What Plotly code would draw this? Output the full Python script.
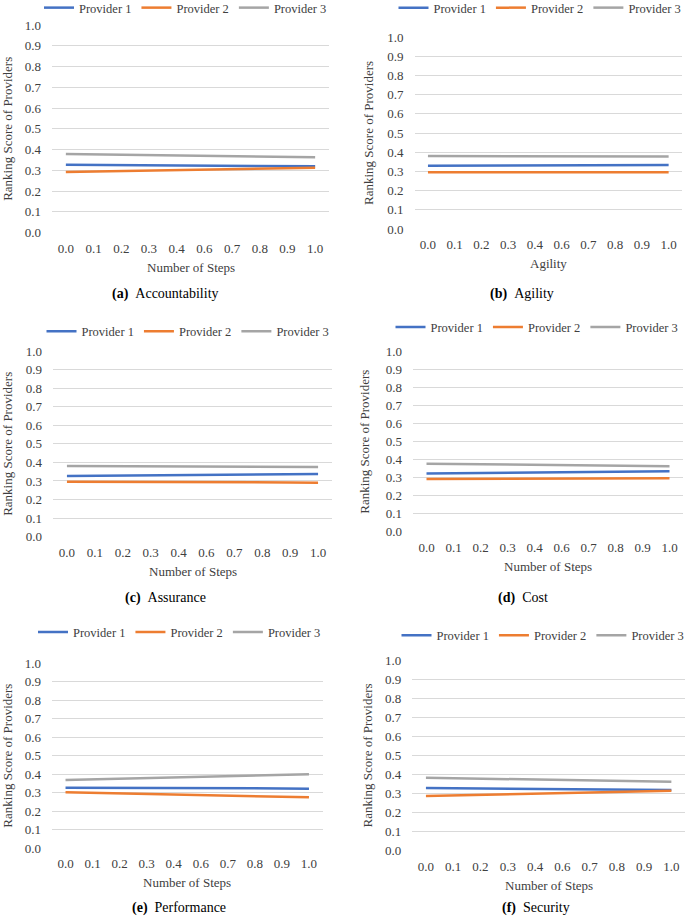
import plotly.graph_objects as go

W, H = 685, 918

steps = ["0.0", "0.1", "0.2", "0.3", "0.4", "0.6", "0.7", "0.8", "0.9", "1.0"]
providers = ["Provider 1", "Provider 2", "Provider 3"]
colors = ["#4472C4", "#ED7D31", "#A5A5A5"]

acc_p1 = [0.327, 0.326, 0.326, 0.325, 0.324, 0.323, 0.323, 0.322, 0.321, 0.320]
acc_p2 = [0.292, 0.294, 0.297, 0.299, 0.302, 0.305, 0.307, 0.309, 0.311, 0.313]
acc_p3 = [0.379, 0.377, 0.375, 0.374, 0.372, 0.370, 0.369, 0.367, 0.365, 0.363]

agi_p1 = [0.330, 0.330, 0.331, 0.331, 0.331, 0.332, 0.332, 0.332, 0.333, 0.333]
agi_p2 = [0.296, 0.296, 0.296, 0.296, 0.296, 0.296, 0.296, 0.296, 0.296, 0.296]
agi_p3 = [0.380, 0.380, 0.379, 0.379, 0.379, 0.378, 0.378, 0.378, 0.377, 0.377]

ass_p1 = [0.327, 0.328, 0.329, 0.330, 0.331, 0.333, 0.334, 0.335, 0.337, 0.338]
ass_p2 = [0.296, 0.296, 0.295, 0.295, 0.294, 0.293, 0.293, 0.292, 0.292, 0.291]
ass_p3 = [0.381, 0.380, 0.380, 0.379, 0.378, 0.378, 0.377, 0.376, 0.376, 0.375]

cost_p1 = [0.324, 0.325, 0.327, 0.328, 0.329, 0.331, 0.332, 0.333, 0.335, 0.336]
cost_p2 = [0.293, 0.293, 0.294, 0.294, 0.295, 0.295, 0.296, 0.296, 0.297, 0.297]
cost_p3 = [0.378, 0.376, 0.375, 0.373, 0.371, 0.370, 0.368, 0.366, 0.365, 0.363]

perf_p1 = [0.327, 0.327, 0.326, 0.326, 0.325, 0.325, 0.324, 0.323, 0.323, 0.322]
perf_p2 = [0.302, 0.299, 0.296, 0.293, 0.290, 0.287, 0.284, 0.281, 0.278, 0.275]
perf_p3 = [0.369, 0.372, 0.376, 0.379, 0.382, 0.386, 0.389, 0.392, 0.396, 0.399]

sec_p1 = [0.329, 0.328, 0.327, 0.326, 0.325, 0.324, 0.323, 0.321, 0.320, 0.319]
sec_p2 = [0.287, 0.290, 0.293, 0.296, 0.300, 0.303, 0.306, 0.309, 0.312, 0.315]
sec_p3 = [0.383, 0.381, 0.378, 0.376, 0.374, 0.371, 0.369, 0.367, 0.364, 0.362]

y_ticks = [0.0, 0.1, 0.2, 0.3, 0.4, 0.5, 0.6, 0.7, 0.8, 0.9, 1.0]

panels = [
    dict(letter="a", name="Accountability", xt="Number of Steps", data=[acc_p1, acc_p2, acc_p3],
         box=(52, 329, 25, 232.7), leg=(185.5, 8), ytx=8, xty=267, cap=(165, 294)),
    dict(letter="b", name="Agility", xt="Agility", data=[agi_p1, agi_p2, agi_p3],
         box=(414.6, 682, 37, 229), leg=(540, 8), ytx=368, xty=263, cap=(522, 294)),
    dict(letter="c", name="Assurance", xt="Number of Steps", data=[ass_p1, ass_p2, ass_p3],
         box=(53, 332, 351, 536.7), leg=(188, 331.7), ytx=8, xty=571.7, cap=(165, 598)),
    dict(letter="d", name="Cost", xt="Number of Steps", data=[cost_p1, cost_p2, cost_p3],
         box=(413, 683, 351.7, 531.7), leg=(537, 327.3), ytx=365, xty=566.7, cap=(523, 598)),
    dict(letter="e", name="Performance", xt="Number of Steps", data=[perf_p1, perf_p2, perf_p3],
         box=(52, 322.5, 663, 848.3), leg=(179.5, 632.3), ytx=8, xty=882.7, cap=(179, 908.3)),
    dict(letter="f", name="Security", xt="Number of Steps", data=[sec_p1, sec_p2, sec_p3],
         box=(412.3, 685, 660.3, 850.7), leg=(543, 635.7), ytx=367, xty=885.7, cap=(536, 908.3)),
]

FONT = "Liberation Serif"
TXT = "#404040"

fig = go.Figure()
layout = dict(
    width=W, height=H, margin=dict(l=0, r=0, t=0, b=0, autoexpand=False),
    paper_bgcolor="white", plot_bgcolor="white",
    font=dict(family=FONT, size=13, color=TXT),
    annotations=[],
)

def px(xp):
    return xp / W

def py(yp):
    return 1 - yp / H

for i, p in enumerate(panels):
    n = i + 1
    xa = "x" if n == 1 else f"x{n}"
    ya = "y" if n == 1 else f"y{n}"
    lg = "legend" if n == 1 else f"legend{n}"
    for k in range(3):
        fig.add_trace(go.Scatter(
            x=steps, y=p["data"][k], mode="lines", name=providers[k],
            line=dict(color=colors[k], width=2.5),
            xaxis=xa, yaxis=ya, legend=lg, showlegend=True,
        ))
    x0, x1, y0, y1 = p["box"]
    xkey = "xaxis" if n == 1 else f"xaxis{n}"
    ykey = "yaxis" if n == 1 else f"yaxis{n}"
    layout[xkey] = dict(
        domain=[px(x0), px(x1)], anchor=ya, type="category",
        categoryorder="array", categoryarray=steps,
        range=[-0.5, len(steps) - 0.5],
        showgrid=False, zeroline=False, showline=False, ticks="",
        tickfont=dict(family=FONT, size=13, color=TXT),
        ticklabelstandoff=6, fixedrange=True, automargin=False,
    )
    layout[ykey] = dict(
        domain=[py(y1), py(y0)], anchor=xa, range=[0, 1.0],
        tickvals=y_ticks, ticktext=[f"{v:.1f}" for v in y_ticks],
        showgrid=True, gridcolor="#D9D9D9", gridwidth=1,
        zeroline=False, showline=False, ticks="",
        tickfont=dict(family=FONT, size=13, color=TXT),
        ticklabelstandoff=10, fixedrange=True, automargin=False,
    )
    layout[lg] = dict(
        orientation="h", x=px(p["leg"][0]), y=py(p["leg"][1]),
        xanchor="center", yanchor="middle", bgcolor="rgba(0,0,0,0)",
        font=dict(family=FONT, size=12.5, color=TXT),
        itemwidth=30, tracegroupgap=0,
    )
    layout["annotations"].append(dict(
        text="Ranking Score of Providers", textangle=-90,
        x=px(p["ytx"]), y=py((y0 + y1) / 2), xref="paper", yref="paper",
        xanchor="center", yanchor="middle", showarrow=False,
        font=dict(family=FONT, size=13, color=TXT),
    ))
    layout["annotations"].append(dict(
        text=p["xt"], x=px((x0 + x1) / 2), y=py(p["xty"]), xref="paper", yref="paper",
        xanchor="center", yanchor="middle", showarrow=False,
        font=dict(family=FONT, size=13, color=TXT),
    ))
    layout["annotations"].append(dict(
        text=f"<b>({p['letter']})</b>\u00a0\u00a0{p['name']}", x=px(p["cap"][0]), y=py(p["cap"][1]),
        xref="paper", yref="paper", xanchor="center", yanchor="middle", showarrow=False,
        font=dict(family=FONT, size=14, color="black"),
    ))

fig.update_layout(**layout)
fig.write_html(
    "out.html",
    config={"displayModeBar": False},
    post_script="document.body.style.margin='0';document.body.style.overflow='hidden';",
)
